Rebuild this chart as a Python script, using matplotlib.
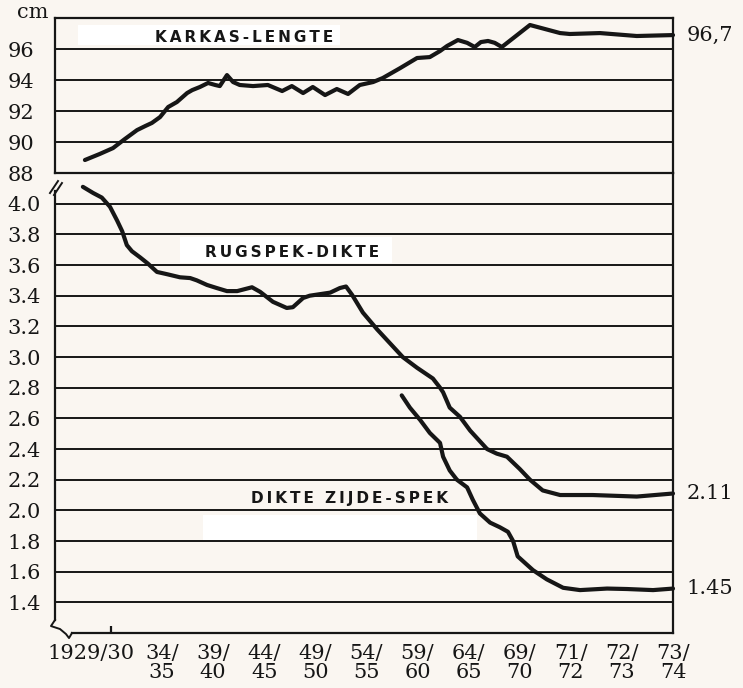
import matplotlib.pyplot as plt
from matplotlib.patches import Rectangle

# season axis: one step per labelled tick (5-yearly, then yearly at the end)
season_pos = [-0.39, 1, 2, 3, 4, 5, 6, 7, 8, 9, 10, 11]
season_labels = ["1929/30", "34/\n35", "39/\n40", "44/\n45", "49/\n50", "54/\n55",
                 "59/\n60", "64/\n65", "69/\n70", "71/\n72", "72/\n73", "73/\n74"]
tick_marks = [0, 1, 2, 3, 4, 5, 6, 7, 8, 9, 10]

top_yticks = [88, 90, 92, 94, 96]
bottom_yticks = [1.4, 1.6, 1.8, 2.0, 2.2, 2.4, 2.6, 2.8, 3.0, 3.2, 3.4, 3.6, 3.8, 4.0]

# karkas-lengte (cm)
karkas_x = [-0.51, -0.22, 0.04, 0.27, 0.51, 0.67, 0.80, 0.96, 1.12, 1.29, 1.49, 1.59,
            1.74, 1.90, 2.04, 2.13, 2.27, 2.39, 2.52, 2.78, 3.07, 3.35, 3.54, 3.76,
            3.95, 4.19, 4.42, 4.64, 4.87, 5.13, 5.32, 5.66, 5.99, 6.24, 6.44, 6.58,
            6.79, 6.97, 7.12, 7.24, 7.38, 7.51, 7.65, 8.20, 8.79, 8.98, 9.57, 10.29, 11.00]
karkas_y = [88.84, 89.23, 89.61, 90.19, 90.77, 91.03, 91.23, 91.61, 92.26, 92.58, 93.16, 93.35,
            93.55, 93.81, 93.68, 93.61, 94.32, 93.87, 93.68, 93.61, 93.68, 93.29, 93.61, 93.16,
            93.55, 93.03, 93.42, 93.10, 93.68, 93.87, 94.13, 94.77, 95.42, 95.48, 95.87, 96.20,
            96.58, 96.40, 96.13, 96.45, 96.52, 96.40, 96.13, 97.55, 97.03, 96.97, 97.03, 96.84, 96.90]

# rugspek-dikte (cm)
rugspek_x = [-0.55, -0.35, -0.18, -0.02, 0.12, 0.22, 0.31, 0.41, 0.57, 0.72, 0.90, 1.10,
             1.35, 1.55, 1.68, 1.88, 2.07, 2.27, 2.47, 2.76, 2.92, 3.17, 3.44, 3.56,
             3.76, 3.89, 4.29, 4.48, 4.60, 4.72, 4.93, 5.21, 5.46, 5.71, 5.99, 6.30,
             6.44, 6.50, 6.63, 6.83, 7.03, 7.36, 7.55, 7.75, 8.00, 8.20, 8.45, 8.79,
             9.43, 10.29, 11.00]
rugspek_y = [4.11, 4.07, 4.04, 3.98, 3.89, 3.82, 3.73, 3.69, 3.65, 3.61, 3.555, 3.54,
             3.52, 3.515, 3.50, 3.47, 3.45, 3.43, 3.43, 3.455, 3.425, 3.36, 3.32, 3.325,
             3.385, 3.40, 3.42, 3.45, 3.46, 3.405, 3.29, 3.18, 3.09, 3.00, 2.93, 2.86,
             2.80, 2.77, 2.67, 2.61, 2.52, 2.40, 2.37, 2.35, 2.27, 2.20, 2.13, 2.10,
             2.10, 2.09, 2.11]

# dikte zijde-spek (cm)
zijde_x = [5.69, 5.85, 6.05, 6.24, 6.44, 6.50, 6.63, 6.77, 6.97, 7.08, 7.22, 7.42,
           7.61, 7.77, 7.87, 7.96, 8.26, 8.53, 8.85, 9.18, 9.71, 10.10, 10.61, 11.00]
zijde_y = [2.75, 2.67, 2.59, 2.505, 2.44, 2.35, 2.26, 2.20, 2.15, 2.07, 1.98, 1.92,
           1.89, 1.86, 1.80, 1.70, 1.61, 1.55, 1.495, 1.48, 1.49, 1.487, 1.48, 1.49]

end_labels = ["96,7", "2.11", "1.45"]

BG = "#faf6f1"
INK = "#161616"
SERIF = "DejaVu Serif"
SANS = "DejaVu Sans"


def spaced(text):
    # letter-spaced caps: thin spaces between glyphs, a wider gap between words
    return "\u2009 \u2009".join("\u2009".join(word) for word in text.split(" "))


fig = plt.figure(figsize=(7.43, 6.88), dpi=100, facecolor=BG)
ax_top = fig.add_axes([0.0740, 0.7485, 0.8318, 0.2253])
ax_bot = fig.add_axes([0.0740, 0.0799, 0.8318, 0.6686])

for ax in (ax_top, ax_bot):
    ax.set_facecolor("none")
    ax.set_xlim(-1.096, 11)
    ax.grid(axis="y", color=INK, linewidth=1.4)
    ax.set_axisbelow(True)
    for s in ax.spines.values():
        s.set_color(INK)
        s.set_linewidth(1.6)
    ax.tick_params(axis="y", length=0, pad=34, labelsize=15, labelcolor=INK)

# top panel: carcass length
ax_top.set_ylim(88, 98)
ax_top.set_yticks(top_yticks, [str(v) for v in top_yticks], ha="left", fontfamily=SERIF)
ax_top.set_xticks([])
ax_top.plot(karkas_x, karkas_y, color=INK, linewidth=3, solid_capstyle="round",
            solid_joinstyle="round", clip_on=False)

# bottom panel: backfat / side fat thickness
ax_bot.set_ylim(1.2, 4.2)
ax_bot.set_yticks(bottom_yticks, [f"{v:.1f}" for v in bottom_yticks], ha="left", fontfamily=SERIF)
ax_bot.spines["top"].set_visible(False)
ax_bot.spines["left"].set_bounds(1.285, 4.08)
ax_bot.spines["bottom"].set_bounds(-0.76, 11)
ax_bot.set_xticks(season_pos, season_labels, fontfamily=SERIF, fontsize=15,
                  linespacing=1.0, color=INK)
ax_bot.tick_params(axis="x", which="major", length=0, pad=8)
ax_bot.set_xticks(tick_marks, minor=True)
ax_bot.tick_params(axis="x", which="minor", direction="in", length=5, width=1.6, color=INK)
ax_bot.plot(rugspek_x, rugspek_y, color=INK, linewidth=3, solid_capstyle="round",
            solid_joinstyle="round", clip_on=False)
ax_bot.plot(zijde_x, zijde_y, color=INK, linewidth=3, solid_capstyle="round",
            solid_joinstyle="round", clip_on=False)

# axis break marks
ax_bot.plot([-0.0081, 0.0049], [0.9565, 0.9826], transform=ax_bot.transAxes,
            color=INK, lw=1.4, clip_on=False)
ax_bot.plot([-0.0016, 0.0113], [0.9522, 0.9783], transform=ax_bot.transAxes,
            color=INK, lw=1.4, clip_on=False)
ax_bot.plot([0, -0.0065, 0.0081, 0.0178, 0.0227, 0.0275],
            [0.0283, 0.0152, 0.0087, -0.0022, -0.0109, 0.0], transform=ax_bot.transAxes,
            color=INK, lw=1.4, clip_on=False)

# series names on white strips
title_kw = dict(ha="center", va="center", fontfamily=SANS, fontweight="bold",
                fontsize=11, color=INK, zorder=3)
ax_top.add_patch(Rectangle((0.037, 0.826), 0.424, 0.129, transform=ax_top.transAxes,
                           facecolor="white", edgecolor="none", zorder=1))
ax_top.text(0.306, 0.874, spaced("KARKAS-LENGTE"), transform=ax_top.transAxes, **title_kw)
ax_bot.add_patch(Rectangle((0.202, 0.804), 0.343, 0.057, transform=ax_bot.transAxes,
                           facecolor="white", edgecolor="none", zorder=1))
ax_bot.text(0.383, 0.828, spaced("RUGSPEK-DIKTE"), transform=ax_bot.transAxes, **title_kw)
ax_bot.add_patch(Rectangle((0.239, 0.202), 0.444, 0.055, transform=ax_bot.transAxes,
                           facecolor="white", edgecolor="none", zorder=1))
ax_bot.text(0.477, 0.293, spaced("DIKTE ZIJDE-SPEK"), transform=ax_bot.transAxes, **title_kw)

# end values at the right
for ax, xs, ys, lab in [(ax_top, karkas_x, karkas_y, end_labels[0]),
                        (ax_bot, rugspek_x, rugspek_y, end_labels[1]),
                        (ax_bot, zijde_x, zijde_y, end_labels[2])]:
    ax.annotate(lab, xy=(xs[-1], ys[-1]), xytext=(10, 0), textcoords="offset points",
                ha="left", va="center", fontfamily=SERIF, fontsize=15, color=INK,
                annotation_clip=False)

fig.text(17 / 743, 1 - 13 / 688, "cm", ha="left", va="center", fontfamily=SERIF,
         fontsize=15, color=INK)

fig.savefig("out.png", dpi=100, facecolor=BG)
plt.close(fig)
